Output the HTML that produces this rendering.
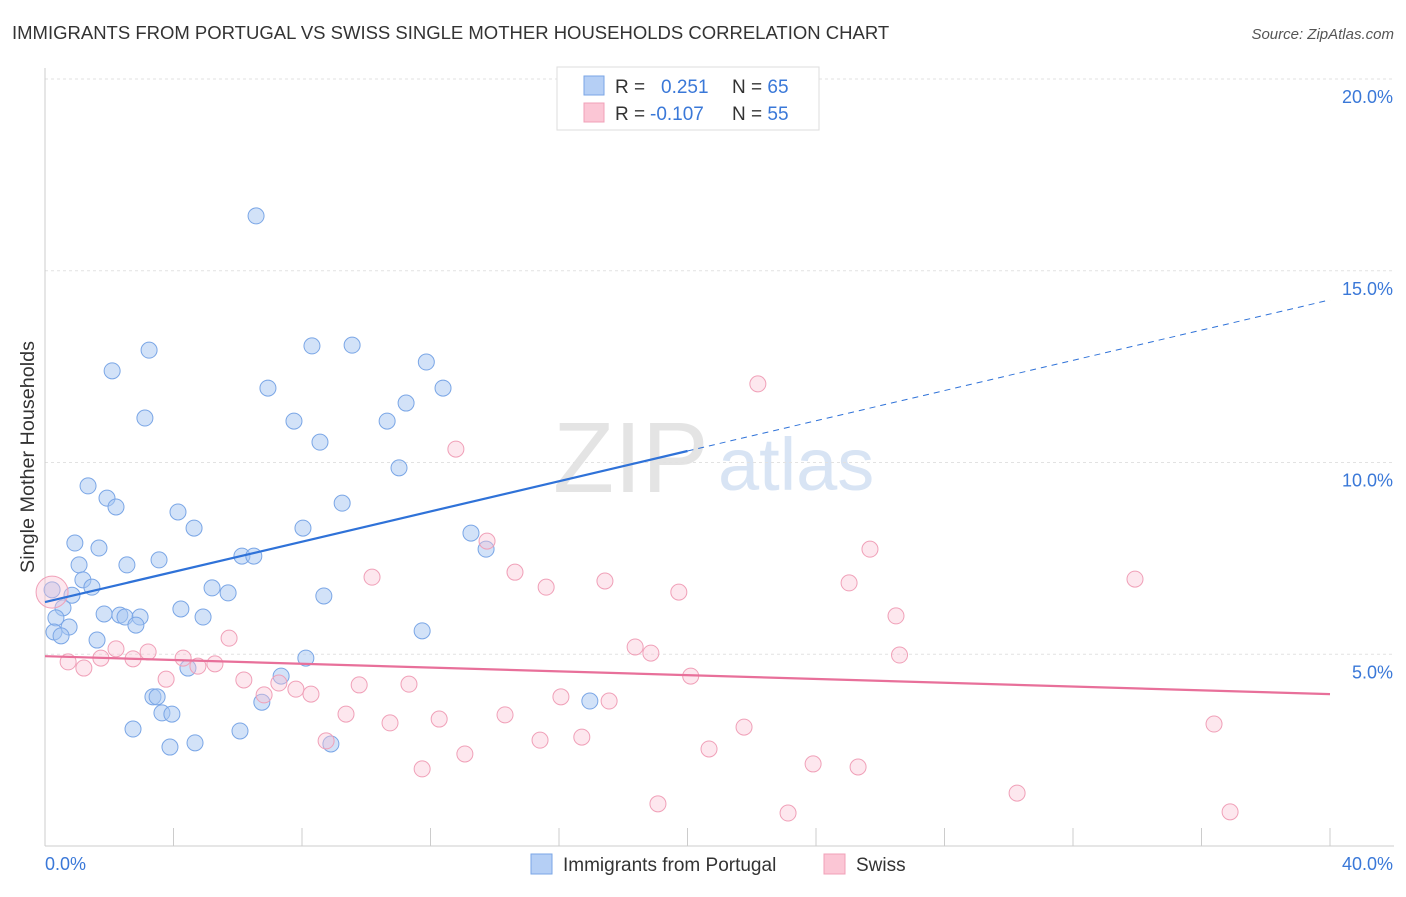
<!DOCTYPE html>
<html><head><meta charset="utf-8"><style>
body{margin:0;background:#fff;font-family:"Liberation Sans",sans-serif;}
svg text{font-family:"Liberation Sans",sans-serif;}
</style></head><body>
<svg id="c" width="1406" height="892">
<text x="12" y="39" font-size="18.5" fill="#333">IMMIGRANTS FROM PORTUGAL VS SWISS SINGLE MOTHER HOUSEHOLDS CORRELATION CHART</text>
<text x="1394" y="39" font-size="15" fill="#555" font-style="italic" text-anchor="end">Source: ZipAtlas.com</text>
<text x="34" y="457" font-size="19.8" fill="#333" text-anchor="middle" transform="rotate(-90 34 457)">Single Mother Households</text>
<text x="553" y="492" font-size="100" fill="#e4e4e4" font-family="Liberation Serif">ZIP</text>
<text x="718" y="490" font-size="74" fill="#d8e4f4">atlas</text>
<g id="grid"></g><g id="axes"></g><g id="pts"></g><g id="trend"></g>
<g>
<rect x="557" y="67" width="262" height="63" fill="#fff" stroke="#ddd"/>
<rect x="584" y="76" width="20" height="19" fill="#b5cff5" stroke="#7aa6e6"/>
<rect x="584" y="103" width="20" height="19" fill="#fbc6d5" stroke="#f0a0b8"/>
<text x="615" y="93" font-size="19" fill="#333">R = <tspan fill="#3a78d8" x="661">0.251</tspan><tspan x="732" fill="#333">N = </tspan><tspan fill="#3a78d8">65</tspan></text>
<text x="615" y="120" font-size="19" fill="#333">R = <tspan fill="#3a78d8" x="650">-0.107</tspan><tspan x="732" fill="#333">N = </tspan><tspan fill="#3a78d8">55</tspan></text>
</g>
<g>
<rect x="531" y="854" width="21" height="20" fill="#b5cff5" stroke="#7aa6e6"/>
<text x="563" y="871" font-size="19" fill="#333">Immigrants from Portugal</text>
<rect x="824" y="854" width="21" height="20" fill="#fbc6d5" stroke="#f0a0b8"/>
<text x="856" y="871" font-size="19" fill="#333">Swiss</text>
</g>
</svg>
<script>
const yTicks=[5,10,15,20];
const yTickLabels=["5.0%","10.0%","15.0%","20.0%"];
const xTicks=[0,4,8,12,16,20,24,28,32,36,40];
const blueX=[6.57,3.24,2.09,8.31,9.56,11.87,6.94,12.39,3.11,7.75,10.65,11.24,8.56,11.02,1.34,1.93,2.21,4.14,4.64,9.25,8.03,13.26,13.73,0.93,1.68,3.55,6.13,6.5,1.06,2.55,1.18,1.46,0.84,0.22,5.2,5.7,8.68,0.56,4.23,1.84,2.33,2.49,2.96,4.92,0.34,2.83,0.75,0.28,0.5,11.74,1.62,4.45,8.12,7.35,3.36,3.49,6.75,3.64,3.95,16.96,2.74,6.07,3.89,4.67,8.9];
const blueY=[16.43,12.93,12.39,13.04,13.06,12.62,11.94,11.94,11.16,11.08,11.08,11.55,10.53,9.86,9.39,9.07,8.84,8.71,8.29,8.94,8.29,8.16,7.74,7.9,7.77,7.46,7.56,7.56,7.33,7.33,6.94,6.75,6.54,6.68,6.73,6.6,6.52,6.21,6.18,6.05,6.02,5.97,5.97,5.97,5.95,5.76,5.71,5.58,5.48,5.61,5.37,4.64,4.9,4.43,3.89,3.89,3.75,3.47,3.44,3.78,3.05,3.0,2.58,2.69,2.66];
const pinkX=[22.19,12.79,25.68,13.76,10.18,14.63,15.6,17.43,19.73,25.03,33.93,26.49,18.37,18.86,26.6,5.73,2.21,3.21,0.72,1.21,1.74,2.74,4.3,4.76,5.29,3.77,6.19,20.1,7.28,7.81,8.28,6.82,9.78,11.33,16.06,17.56,9.37,10.74,12.27,14.32,21.76,36.39,8.75,15.41,16.71,20.67,13.07,11.74,23.91,25.31,30.26,19.08,23.13,36.89];
const pinkY=[12.05,10.35,7.74,7.95,7.01,7.14,6.75,6.91,6.62,6.86,6.96,6.0,5.19,5.03,4.98,5.42,5.14,5.06,4.8,4.64,4.9,4.88,4.9,4.69,4.75,4.35,4.33,4.43,4.25,4.09,3.96,3.94,4.2,4.22,3.89,3.78,3.44,3.21,3.31,3.42,3.1,3.18,2.74,2.76,2.84,2.53,2.4,2.01,2.14,2.06,1.38,1.1,0.86,0.89];
const bigPink=[0.22,6.62];
const blueTrend=[0,6.36,40,14.24];
const blueSolidEnd=20;
const pinkTrend=[0,4.95,40,3.96];
const X=v=>45+v/40*1285, Y=v=>846-v*38.35;
const NS="http://www.w3.org/2000/svg";
function mk(t,a,p){const e=document.createElementNS(NS,t);for(const k in a)e.setAttribute(k,a[k]);p.appendChild(e);return e;}
const grid=document.getElementById('grid'),axes=document.getElementById('axes'),pts=document.getElementById('pts'),tr=document.getElementById('trend');
yTicks.forEach((t,i)=>{const l=mk('line',{x1:45,x2:1394,y1:Y(t),y2:Y(t),stroke:'#e2e2e2','stroke-dasharray':'3,3'},grid);


const tx=mk('text',{x:1393,y:Y(t)+24,'font-size':18,fill:'#3a78d8','text-anchor':'end'},axes);tx.textContent=yTickLabels[i];

});
const ax=mk('line',{x1:45,x2:45,y1:68,y2:846,stroke:'#ccc'},axes);


const bx=mk('line',{x1:45,x2:1394,y1:846,y2:846,stroke:'#ccc'},axes);


xTicks.forEach(t=>{const l=mk('line',{x1:X(t),x2:X(t),y1:828,y2:846,stroke:'#ccc'},axes);

});
const x0=mk('text',{x:45,y:870,'font-size':18,fill:'#3a78d8'},axes);x0.textContent='0.0%';


const x1=mk('text',{x:1393,y:870,'font-size':18,fill:'#3a78d8','text-anchor':'end'},axes);x1.textContent='40.0%';


blueX.forEach((v,i)=>{const c=mk('circle',{cx:X(v),cy:Y(blueY[i]),r:8,fill:'rgba(165,198,242,0.5)',stroke:'#7aa6e6','stroke-width':1},pts);

});
pinkX.forEach((v,i)=>{const c=mk('circle',{cx:X(v),cy:Y(pinkY[i]),r:8,fill:'rgba(250,195,212,0.4)',stroke:'#f0a0b8','stroke-width':1},pts);

});
const bp=mk('circle',{cx:X(bigPink[0]),cy:Y(bigPink[1]),r:16,fill:'rgba(250,195,212,0.4)',stroke:'#f0a0b8'},pts);


const bs=(blueTrend[3]-blueTrend[1])/(blueTrend[2]-blueTrend[0]);
const t1=mk('line',{x1:X(blueTrend[0]),y1:Y(blueTrend[1]),x2:X(blueSolidEnd),y2:Y(blueTrend[1]+bs*blueSolidEnd),stroke:'#2f72d8','stroke-width':2.2},tr);


const t2=mk('line',{x1:X(blueSolidEnd),y1:Y(blueTrend[1]+bs*blueSolidEnd),x2:X(blueTrend[2]),y2:Y(blueTrend[3]),stroke:'#2f72d8','stroke-width':1,'stroke-dasharray':'6,5'},tr);


const t3=mk('line',{x1:X(pinkTrend[0]),y1:Y(pinkTrend[1]),x2:X(pinkTrend[2]),y2:Y(pinkTrend[3]),stroke:'#e8709a','stroke-width':2.2},tr);


</script>
</body></html>
